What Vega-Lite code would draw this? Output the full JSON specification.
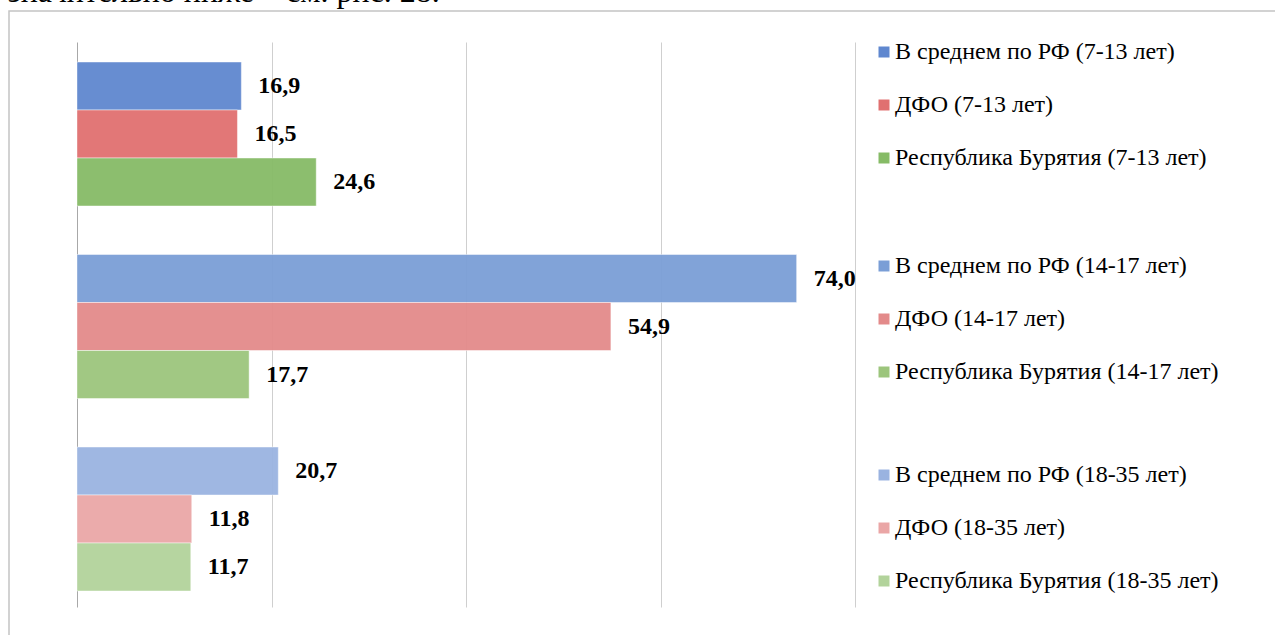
{
  "$schema": "https://vega.github.io/schema/vega-lite/v6.json",
  "autosize": {"type": "none"},
  "padding": {"left": 9, "top": 11, "right": 0, "bottom": 0},
  "width": 1275,
  "height": 640,
  "background": "white",
  "title": {
    "text": "значительно ниже – см. рис. 28.",
    "anchor": "start",
    "frame": "group",
    "orient": "top",
    "font": "Liberation Serif",
    "fontSize": 32,
    "fontWeight": "normal",
    "color": "#000000",
    "baseline": "alphabetic",
    "offset": 0,
    "dx": -1,
    "dy": 23
  },
  "data": {
    "values": [
      {"group": "7-13", "region": "РФ", "series": "В среднем по РФ (7-13 лет)", "value": 16.9, "lbl": "16,9"},
      {"group": "7-13", "region": "ДФО", "series": "ДФО (7-13 лет)", "value": 16.5, "lbl": "16,5"},
      {"group": "7-13", "region": "РБ", "series": "Республика Бурятия (7-13 лет)", "value": 24.6, "lbl": "24,6"},
      {"group": "14-17", "region": "РФ", "series": "В среднем по РФ (14-17 лет)", "value": 74.0, "lbl": "74,0"},
      {"group": "14-17", "region": "ДФО", "series": "ДФО (14-17 лет)", "value": 54.9, "lbl": "54,9"},
      {"group": "14-17", "region": "РБ", "series": "Республика Бурятия (14-17 лет)", "value": 17.7, "lbl": "17,7"},
      {"group": "18-35", "region": "РФ", "series": "В среднем по РФ (18-35 лет)", "value": 20.7, "lbl": "20,7"},
      {"group": "18-35", "region": "ДФО", "series": "ДФО (18-35 лет)", "value": 11.8, "lbl": "11,8"},
      {"group": "18-35", "region": "РБ", "series": "Республика Бурятия (18-35 лет)", "value": 11.7, "lbl": "11,7"}
    ]
  },
  "encoding": {
    "y": {
      "field": "group", "type": "nominal",
      "sort": ["7-13", "14-17", "18-35"],
      "scale": {"domain": ["7-13", "14-17", "18-35"], "range": [31, 596], "paddingInner": 0.252, "paddingOuter": 0.0935, "align": 0.556},
      "axis": null
    },
    "yOffset": {
      "field": "region", "type": "nominal",
      "scale": {"domain": ["РФ", "ДФО", "РБ"], "paddingInner": 0, "paddingOuter": 0}
    },
    "x": {
      "field": "value", "type": "quantitative",
      "scale": {"domain": [0, 80], "range": [68, 846], "nice": false, "zero": true},
      "axis": {
        "orient": "top",
        "values": [0, 20, 40, 60, 80],
        "labels": false, "ticks": false, "domain": false, "title": null,
        "grid": true,
        "gridColor": {"condition": {"test": "datum.value === 0", "value": "#a8a8a8"}, "value": "#cfcfcf"},
        "gridWidth": 1
      }
    }
  },
  "layer": [
    {
      "transform": [{"filter": "datum.group === '7-13'"}],
      "mark": {"type": "bar", "fillOpacity": 0.95, "strokeWidth": 1, "strokeOpacity": 0.45},
      "encoding": {
        "color": {
          "field": "series", "type": "nominal",
          "scale": {"domain": ["В среднем по РФ (7-13 лет)", "ДФО (7-13 лет)", "Республика Бурятия (7-13 лет)"], "range": ["#5f87cf", "#e07070", "#86bb66"]},
          "legend": {"orient": "none", "legendX": 863, "legendY": 29, "title": null}
        },
        "stroke": {"value": "#ffffff"}
      }
    },
    {
      "transform": [{"filter": "datum.group === '14-17'"}],
      "mark": {"type": "bar", "fillOpacity": 0.95, "strokeWidth": 1, "strokeOpacity": 0.45},
      "encoding": {
        "color": {
          "field": "series", "type": "nominal",
          "scale": {"domain": ["В среднем по РФ (14-17 лет)", "ДФО (14-17 лет)", "Республика Бурятия (14-17 лет)"], "range": ["#7a9ed6", "#e38a8a", "#9cc57c"]},
          "legend": {"orient": "none", "legendX": 863, "legendY": 243, "title": null}
        },
        "stroke": {"value": "#ffffff"}
      }
    },
    {
      "transform": [{"filter": "datum.group === '18-35'"}],
      "mark": {"type": "bar", "fillOpacity": 0.95, "strokeWidth": 1, "strokeOpacity": 0.45},
      "encoding": {
        "color": {
          "field": "series", "type": "nominal",
          "scale": {"domain": ["В среднем по РФ (18-35 лет)", "ДФО (18-35 лет)", "Республика Бурятия (18-35 лет)"], "range": ["#9ab3e0", "#eaa6a6", "#b2d39b"]},
          "legend": {"orient": "none", "legendX": 863, "legendY": 452, "title": null}
        },
        "stroke": {"value": "#ffffff"}
      }
    },
    {
      "mark": {"type": "text", "align": "left", "baseline": "middle", "dx": 17, "font": "Liberation Serif", "fontSize": 24, "fontWeight": "bold", "color": "#000000"},
      "encoding": {"text": {"field": "lbl"}}
    }
  ],
  "resolve": {"scale": {"color": "independent"}, "legend": {"color": "independent"}},
  "config": {
    "view": {"stroke": "#c4c4c4", "strokeWidth": 1.5},
    "legend": {
      "labelFont": "Liberation Serif",
      "labelFontSize": 24,
      "labelColor": "#000000",
      "labelLimit": 500,
      "labelOffset": -1,
      "symbolType": "square",
      "symbolSize": 121,
      "symbolStrokeWidth": 0,
      "symbolOpacity": 1,
      "rowPadding": 29,
      "padding": 0
    }
  }
}
